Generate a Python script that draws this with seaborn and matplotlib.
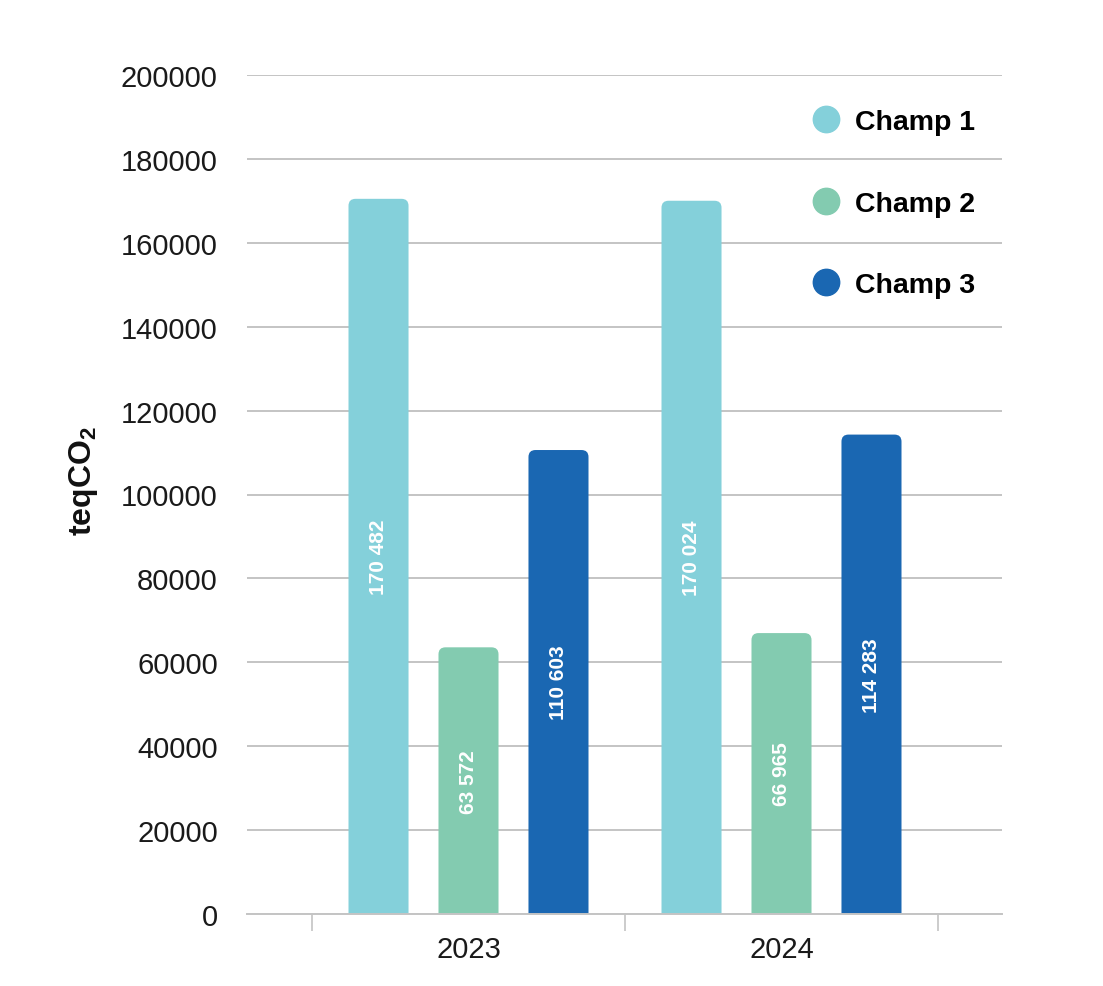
import matplotlib
matplotlib.use("Agg")
import matplotlib.pyplot as plt
import seaborn as sns
import pandas as pd
from matplotlib.patches import FancyBboxPatch
from matplotlib.lines import Line2D

# ---- data ----
years = ["2023", "2024"]
series_names = ["Champ 1", "Champ 2", "Champ 3"]
champ1 = [170482, 170024]
champ2 = [63572, 66965]
champ3 = [110603, 114283]
colors = ["#84D0DA", "#83CBB0", "#1A67B2"]
yticks = [0, 20000, 40000, 60000, 80000, 100000, 120000, 140000, 160000, 180000, 200000]

rows = []
for name, vals in zip(series_names, [champ1, champ2, champ3]):
    for yr, v in zip(years, vals):
        rows.append({"year": yr, "champ": name, "value": v})
df = pd.DataFrame(rows)

sns.set_style("white")
plt.rcParams["font.family"] = ["Liberation Sans", "DejaVu Sans"]
plt.rcParams["mathtext.fontset"] = "custom"
plt.rcParams["mathtext.rm"] = "Liberation Sans:bold"
plt.rcParams["mathtext.default"] = "rm"

W, H = 1103, 987
fig = plt.figure(figsize=(W / 100, H / 100), dpi=100)
ax = fig.add_axes([247 / W, 72 / H, 755 / W, 839 / H])

sns.barplot(data=df, x="year", y="value", hue="champ", hue_order=series_names,
            order=years, palette=colors, saturation=1, width=0.8625, gap=0.333,
            linewidth=0, legend=False, ax=ax)

ax.set_ylim(0, 200000)
ax.set_xlim(-0.5 - 65 / 313, 1.5 + 64 / 313)

# grid
ax.set_yticks(yticks)
ax.set_yticklabels([str(t) for t in yticks], fontsize=21, color="#1a1a1a")
ax.yaxis.grid(True, color="#c4c4c4", linewidth=1.4)
ax.set_axisbelow(True)
ax.tick_params(axis="y", length=0, pad=21)
for s in ["top", "right", "left"]:
    ax.spines[s].set_visible(False)
ax.spines["bottom"].set_color("#c4c4c4")
ax.spines["bottom"].set_linewidth(1.4)

ax.set_xticks([0, 1])
ax.set_xticklabels(years, fontsize=21, color="#1a1a1a")
ax.set_xticks([-0.5, 0.5, 1.5], minor=True)
ax.tick_params(axis="x", which="major", length=0, pad=15)
ax.tick_params(axis="x", which="minor", bottom=True, length=12, width=1.2,
               color="#c4c4c4", direction="out")
ax.set_xlabel("")
ax.set_ylabel(r"teqCO$_{2}$", fontsize=23, fontweight="bold", color="#111111")
ax.yaxis.set_label_coords(-(247 - 100) / 755, 0.5 + 14 / 839)

# labels on bars
for cont in ax.containers:
    labels = [f"{int(round(b.get_height())):,}".replace(",", " ") for b in cont]
    ax.bar_label(cont, labels=labels, label_type="center", rotation=90,
                 color="white", fontsize=15, fontweight="bold")

# rounded top corners
fig.canvas.draw()
p0 = ax.transData.inverted().transform((0, 0))
p1 = ax.transData.inverted().transform((1, 1))
dx_per_px = p1[0] - p0[0]
dy_per_px = p1[1] - p0[1]
r_px = 7
rx = r_px * dx_per_px
ry = r_px * dy_per_px
for cont in ax.containers:
    for b in cont:
        x, w, h = b.get_x(), b.get_width(), b.get_height()
        fc = b.get_facecolor()
        b.set_visible(False)
        fb = FancyBboxPatch((x, -ry), w, h + ry,
                            boxstyle=f"round,pad=0,rounding_size={rx}",
                            mutation_aspect=ry / rx, facecolor=fc,
                            edgecolor="none", linewidth=0, zorder=2)
        ax.add_patch(fb)

# legend
handles = [Line2D([], [], linestyle="none", marker="o", markersize=19,
                  markerfacecolor=c, markeredgecolor=c) for c in colors]
leg = ax.legend(handles, series_names, loc="upper left",
                bbox_to_anchor=(795 / W, (H - 96) / H), bbox_transform=fig.transFigure,
                frameon=False, labelspacing=1.95, handletextpad=0.4,
                handlelength=1.2, borderpad=0,
                prop={"size": 20.5, "weight": "bold"})
for t in leg.get_texts():
    t.set_color("black")

fig.savefig("out.png", dpi=100)
